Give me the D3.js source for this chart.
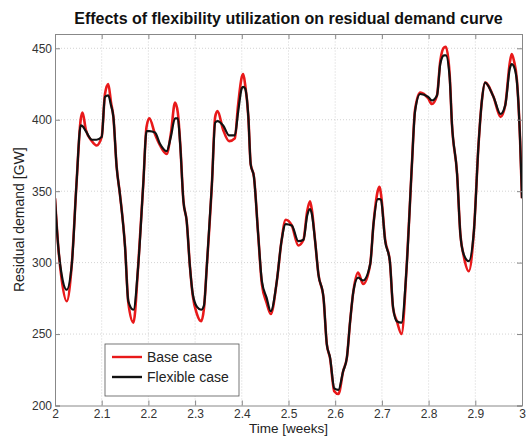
<!DOCTYPE html>
<html>
<head>
<meta charset="utf-8">
<script src="https://cdn.jsdelivr.net/npm/d3@7/dist/d3.min.js"></script>
<style>
  html, body { margin: 0; padding: 0; background: #fff; }
  svg { display: block; font-family: "Liberation Sans", Arial, sans-serif; }
</style>
</head>
<body>
<svg id="chart" width="527" height="439"></svg>
<script>
// Time in weeks
const time = [2.000,2.007,2.014,2.025,2.036,2.046,2.055,2.059,2.066,2.079,2.089,2.100,2.107,2.114,2.120,2.125,2.132,2.139,2.150,2.157,2.168,2.178,2.189,2.196,2.202,2.214,2.225,2.239,2.248,2.257,2.263,2.268,2.275,2.282,2.289,2.295,2.304,2.313,2.319,2.325,2.336,2.343,2.348,2.360,2.373,2.385,2.392,2.400,2.403,2.407,2.414,2.419,2.426,2.435,2.443,2.453,2.462,2.475,2.485,2.494,2.507,2.521,2.532,2.540,2.546,2.550,2.557,2.564,2.575,2.582,2.589,2.598,2.607,2.617,2.625,2.632,2.639,2.649,2.660,2.675,2.682,2.691,2.695,2.698,2.707,2.717,2.724,2.732,2.742,2.753,2.764,2.771,2.782,2.799,2.807,2.818,2.825,2.833,2.837,2.845,2.850,2.861,2.868,2.875,2.886,2.897,2.907,2.914,2.921,2.939,2.954,2.964,2.974,2.978,2.983,2.989,2.996,3.000];
// Residual demand [GW], base case (red)
const baseCase = [345,311,289,273,299,355,400,405,393,385,382,388,418,425,412,402,367,348,311,272,258,297,355,395,401,390,382,376,390,412,405,384,343,329,297,277,264,259,268,297,355,402,406,393,385,387,410,430,432,425,402,369,360,320,285,272,264,287,315,330,326,312,316,336,343,337,315,292,275,243,233,210,208,224,233.5,259,280,293,285,299,327,350,353,348,316,301,268,259,250,297,367,407,419,415,411,417,441,450.5,451,432,397,362,320,305,294,322,383,413,426,416,402,410,440,446,441,428,385,345];
// Residual demand [GW], flexible case (black)
const flexibleCase = [345,311,292,281,299,355,396,395.5,392,386,386,388,416,417,410,402,367,348,311,273,267,297,355,392,392,391,383,378,388,401,401,383,343,329,297,278,269,267,270,297,355,398,399,396,389,389,405,422,423,422,402,369,360,320,287,275.5,266,287,315,327,326,315,316,333,337.5,334,315,292,275.5,243,233.5,212,211,224,233.5,259,280,289.5,287.5,299,327,344.5,344.5,344,315,301,268.5,259,258,297,367,406,418,416,413.5,417,439,445,445,430,397,362,320,306,301,322,383,413,426,416,404,410,436,439,437,427,385,345];
const xTicks = [2,2.1,2.2,2.3,2.4,2.5,2.6,2.7,2.8,2.9,3];
const yTicks = [200,250,300,350,400,450];
const seriesNames = ["Base case","Flexible case"];
const seriesColors = ["#e8191a","#111111"];

const svg = d3.select("#chart");
const m = {left: 55, right: 5, top: 34, bottom: 33.5};
const W = 527, H = 439;
const x = d3.scaleLinear().domain([2,3]).range([m.left, W - m.right]);
const y = d3.scaleLinear().domain([200,460]).range([H - m.bottom, m.top]);

// grid
const grid = svg.append("g");
grid.selectAll(".gx").data(xTicks.slice(1,-1)).enter().append("line")
  .attr("x1", d=>x(d)).attr("x2", d=>x(d)).attr("y1", y(200)).attr("y2", y(460))
  .attr("stroke", "#c8c8c8").attr("stroke-width", 0.8).attr("stroke-dasharray", "1,2");
grid.selectAll(".gy").data(yTicks.slice(1)).enter().append("line")
  .attr("x1", x(2)).attr("x2", x(3)).attr("y1", d=>y(d)).attr("y2", d=>y(d))
  .attr("stroke", "#c8c8c8").attr("stroke-width", 0.8).attr("stroke-dasharray", "1,2");

// lines
const data = time.map((t,i)=>({t, b: baseCase[i], f: flexibleCase[i]}));
const lineB = d3.line().x(d=>x(d.t)).y(d=>y(d.b)).curve(d3.curveMonotoneX);
const lineF = d3.line().x(d=>x(d.t)).y(d=>y(d.f)).curve(d3.curveMonotoneX);
svg.append("clipPath").attr("id","clip").append("rect")
  .attr("x", x(2)).attr("y", y(460)).attr("width", x(3)-x(2)).attr("height", y(200)-y(460));
const plot = svg.append("g").attr("clip-path","url(#clip)");
plot.append("path").datum(data).attr("d", lineB).attr("fill","none")
  .attr("stroke", seriesColors[0]).attr("stroke-width", 2.6).attr("stroke-linejoin","round");
plot.append("path").datum(data).attr("d", lineF).attr("fill","none")
  .attr("stroke", seriesColors[1]).attr("stroke-width", 2.2).attr("stroke-linejoin","round");

// axes (matlab-like: inward ticks on all sides)
const axCol = "#888";
const tickCol = "#333";
const xb = svg.append("g").attr("transform", `translate(0,${y(200)})`)
  .call(d3.axisBottom(x).tickValues(xTicks).tickSize(-5).tickPadding(4).tickFormat(d3.format("")));
const xt = svg.append("g").attr("transform", `translate(0,${y(460)})`)
  .call(d3.axisTop(x).tickValues(xTicks).tickSize(-5).tickFormat(""));
const yl = svg.append("g").attr("transform", `translate(${x(2)},0)`)
  .call(d3.axisLeft(y).tickValues(yTicks).tickSize(-5).tickPadding(3));
const yr = svg.append("g").attr("transform", `translate(${x(3)},0)`)
  .call(d3.axisRight(y).tickValues(yTicks).tickSize(-5).tickFormat(""));
[xb,xt,yl,yr].forEach(g=>{
  g.select(".domain").attr("stroke", axCol).attr("stroke-width", 1);
  g.selectAll(".tick line").attr("stroke", axCol);
  g.selectAll(".tick text").attr("fill", tickCol).attr("font-size", 12)
    .attr("font-family", '"Liberation Sans", Arial, sans-serif');
});

// title and labels
svg.append("text").attr("x", (x(2)+x(3))/2).attr("y", 24).attr("text-anchor","middle")
  .attr("font-size", 16).attr("font-weight","bold").attr("fill","#111")
  .text("Effects of flexibility utilization on residual demand curve");
svg.append("text").attr("x", (x(2)+x(3))/2).attr("y", 433).attr("text-anchor","middle")
  .attr("font-size", 13.5).attr("fill","#222").text("Time [weeks]");
svg.append("text").attr("transform", `translate(24,${(y(200)+y(460))/2}) rotate(-90)`)
  .attr("text-anchor","middle").attr("font-size", 14).attr("fill","#222")
  .text("Residual demand [GW]");

// legend
const lg = svg.append("g").attr("transform","translate(105,344)");
lg.append("rect").attr("width",134).attr("height",52).attr("fill","#fff")
  .attr("stroke","#555").attr("stroke-width",0.8);
seriesNames.forEach((n,i)=>{
  const yy = 13 + i*20;
  lg.append("line").attr("x1",7).attr("x2",37).attr("y1",yy).attr("y2",yy)
    .attr("stroke", seriesColors[i]).attr("stroke-width", 2.4);
  lg.append("text").attr("x",42).attr("y",yy+5).attr("font-size",14).attr("fill","#222").text(n);
});
</script>
</body>
</html>
